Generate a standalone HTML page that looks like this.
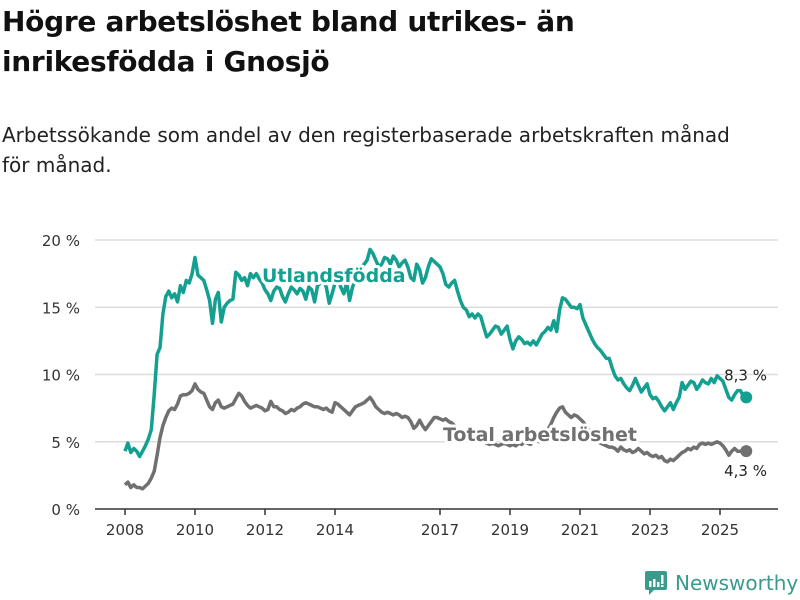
<!DOCTYPE html>
<html><head><meta charset="utf-8"><style>
body{margin:0;width:800px;height:600px;background:#fff;font-family:"Liberation Sans","DejaVu Sans",sans-serif;overflow:hidden;position:relative}
h1{position:absolute;left:2px;top:2px;margin:0;font-size:28px;line-height:40px;font-weight:bold;color:#111;font-family:"DejaVu Sans",sans-serif;letter-spacing:-0.3px}
.sub{position:absolute;left:2px;top:120px;font-size:20px;line-height:30px;color:#222;font-family:"DejaVu Sans",sans-serif}
</style></head><body>
<h1>Högre arbetslöshet bland utrikes- än<br>inrikesfödda i Gnosjö</h1>
<div class="sub">Arbetssökande som andel av den registerbaserade arbetskraften månad<br>för månad.</div>
<svg id="chart" width="800" height="600" style="position:absolute;left:0;top:0" font-family="DejaVu Sans, sans-serif"></svg>
<div style="position:absolute;left:645px;top:570px;height:26px;display:flex;align-items:center">
<svg width="22" height="24" viewBox="0 0 22 24"><rect x="0" y="0" width="22" height="19" rx="2" fill="#3a9a8c"/><path d="M4 19 L4 24 L9 19Z" fill="#3a9a8c"/><rect x="4" y="10" width="2.5" height="6" fill="#fff"/><rect x="8" y="8" width="2.5" height="8" fill="#fff"/><rect x="12" y="11" width="2.5" height="5" fill="#fff"/><rect x="16" y="4" width="2.5" height="9" fill="#fff"/><rect x="16" y="14" width="2.5" height="2" fill="#fff"/></svg>
<span style="font-family:'DejaVu Sans',sans-serif;font-size:20px;color:#3a9a8c;margin-left:8px">Newsworthy</span></div>
<script>
const years=[2008,2010,2012,2014,2017,2019,2021,2023,2025];
const yTicks=[0,5,10,15,20];
const utland=[4.3,4.9,4.2,4.5,4.3,3.9,4.3,4.7,5.2,5.9,8.5,11.5,
12,14.5,15.8,16.2,15.7,16.0,15.4,16.6,16.1,17.0,16.8,17.5,
18.7,17.4,17.2,17.0,16.3,15.5,13.8,15.6,16.1,13.9,15.0,15.3,
15.5,15.6,17.6,17.4,17.0,17.2,16.6,17.5,17.2,17.5,17.1,16.8,
16.3,16.0,15.5,16.2,16.5,16.4,15.8,15.4,16.0,16.5,16.3,16.0,
16.4,16.2,15.6,16.5,16.3,15.4,16.6,16.8,17.0,16.5,15.3,16.0,
16.8,17.0,16.5,16.0,16.8,15.5,16.5,17.0,17.5,18.0,18.2,18.5,
19.3,19.0,18.5,18.0,18.2,18.7,18.6,18.2,18.8,18.5,18.0,18.3,
18.5,18.0,17.2,17.0,18.2,17.8,16.8,17.2,18.0,18.6,18.4,18.2,
18.0,17.5,16.7,16.5,16.8,17.0,16.2,15.5,15.0,14.8,14.3,14.5,
14.2,14.5,14.3,13.5,12.8,13.0,13.3,13.6,13.5,13.0,13.3,13.6,
12.6,11.9,12.5,12.8,12.6,12.3,12.4,12.2,12.5,12.2,12.6,13.0,
13.2,13.5,13.3,14.0,13.2,14.8,15.7,15.6,15.3,15.0,15.0,14.9,
15.2,14.2,13.7,13.2,12.7,12.3,12.0,11.8,11.5,11.2,11.2,10.5,
9.9,9.6,9.7,9.3,9.0,8.8,9.2,9.7,9.2,8.7,9.0,9.3,
8.5,8.2,8.3,8.0,7.6,7.3,7.6,7.9,7.4,7.9,8.3,9.4,
8.9,9.2,9.5,9.4,8.9,9.2,9.6,9.4,9.3,9.7,9.4,9.9,
9.7,9.5,8.9,8.3,8.1,8.5,8.8,8.8,8.4,8.3];
const total=[1.8,2.0,1.6,1.8,1.6,1.6,1.5,1.7,1.9,2.3,2.8,4.0,
5.3,6.2,6.8,7.3,7.5,7.4,7.8,8.4,8.5,8.5,8.6,8.8,
9.3,8.9,8.7,8.6,8.1,7.6,7.4,7.9,8.1,7.6,7.5,7.6,
7.7,7.8,8.2,8.6,8.4,8.0,7.7,7.5,7.6,7.7,7.6,7.5,
7.3,7.4,8.0,7.6,7.6,7.4,7.3,7.1,7.2,7.4,7.3,7.5,
7.6,7.8,7.9,7.8,7.7,7.6,7.6,7.5,7.4,7.5,7.3,7.2,
7.9,7.8,7.6,7.4,7.2,7.0,7.3,7.6,7.7,7.8,7.9,8.1,
8.3,8.0,7.6,7.4,7.2,7.1,7.2,7.1,7.0,7.1,7.0,6.8,
6.9,6.8,6.5,6.0,6.2,6.6,6.2,5.9,6.2,6.5,6.8,6.8,
6.7,6.6,6.7,6.5,6.4,6.2,6.0,5.8,5.7,5.6,5.4,5.3,
5.2,5.3,5.1,5.0,4.9,4.8,4.9,4.8,4.7,4.8,4.9,4.8,
4.7,4.8,4.7,4.9,4.8,5.0,4.9,4.8,5.0,5.1,5.0,5.3,
5.6,5.9,6.3,6.8,7.2,7.5,7.6,7.2,7.0,6.8,7.0,6.9,
6.7,6.5,6.2,5.9,5.5,5.2,5.0,4.9,4.8,4.7,4.6,4.6,
4.5,4.3,4.6,4.4,4.3,4.4,4.2,4.3,4.5,4.3,4.1,4.2,
4.0,3.9,4.0,3.8,3.9,3.6,3.5,3.7,3.6,3.8,4.0,4.2,
4.3,4.5,4.4,4.6,4.5,4.8,4.9,4.8,4.9,4.8,4.9,5.0,
4.9,4.7,4.4,4.0,4.3,4.5,4.3,4.3,4.4,4.3];
const startYear=2008;
const NS="http://www.w3.org/2000/svg";
const svg=document.getElementById('chart');
function xs(t){return 125+(t-2008)*35;}
function ys(v){return 509-v*13.45;}
function mk(tag,attrs,parent){const e=document.createElementNS(NS,tag);for(const k in attrs)e.setAttribute(k,attrs[k]);(parent||svg).appendChild(e);return e;}
yTicks.forEach(v=>{
  if(v>0){const g=mk('line',{x1:95,x2:778,y1:ys(v),y2:ys(v),stroke:'#ddd','stroke-width':1.5});
  
  }
  const t=mk('text',{x:80,y:ys(v)+6,'text-anchor':'end','font-size':15,fill:'#333'});t.textContent=v+' %';
  
  
});
const ax=mk('line',{x1:95,x2:778,y1:509,y2:509,stroke:'#333','stroke-width':1.5});


years.forEach(y=>{
  mk('line',{x1:xs(y),x2:xs(y),y1:509,y2:515,stroke:'#333','stroke-width':1.5});
  const t=mk('text',{x:xs(y),y:535,'text-anchor':'middle','font-size':15,fill:'#333'});t.textContent=y;
  
  
});
function path(arr){return arr.map((v,i)=>(i?'L':'M')+xs(startYear+i/12).toFixed(1)+' '+ys(v).toFixed(1)).join(' ');}
const lt=mk('path',{d:path(total),fill:'none',stroke:'#707070','stroke-width':3.5,'stroke-linejoin':'round'});


const lu=mk('path',{d:path(utland),fill:'none',stroke:'#13a091','stroke-width':3.5,'stroke-linejoin':'round'});


function lab(x,y,txt,col,name){
  const h=mk('text',{x:x,y:y,'font-size':19,'font-weight':'bold',fill:'none',stroke:'#fff','stroke-width':6,'stroke-linejoin':'round'});h.textContent=txt;
  const t=mk('text',{x:x,y:y,'font-size':19,'font-weight':'bold',fill:col});t.textContent=txt;
  
  
}
lab(262,282,'Utlandsfödda','#13a091','utlandsfodda-label');
lab(443,441,'Total arbetslöshet','#707070','total-label');
const iu=utland.length-1,it=total.length-1;
const du=mk('circle',{cx:xs(startYear+iu/12),cy:ys(utland[iu]),r:6,fill:'#13a091'});


const dt=mk('circle',{cx:xs(startYear+it/12),cy:ys(total[it]),r:6,fill:'#707070'});


const vu=mk('text',{x:767,y:ys(utland[iu])-17,'text-anchor':'end','font-size':15,fill:'#222'});vu.textContent=utland[iu].toString().replace('.',',')+' %';


const vt=mk('text',{x:767,y:ys(total[it])+25,'text-anchor':'end','font-size':15,fill:'#222'});vt.textContent=total[it].toString().replace('.',',')+' %';


</script>
</body></html>
